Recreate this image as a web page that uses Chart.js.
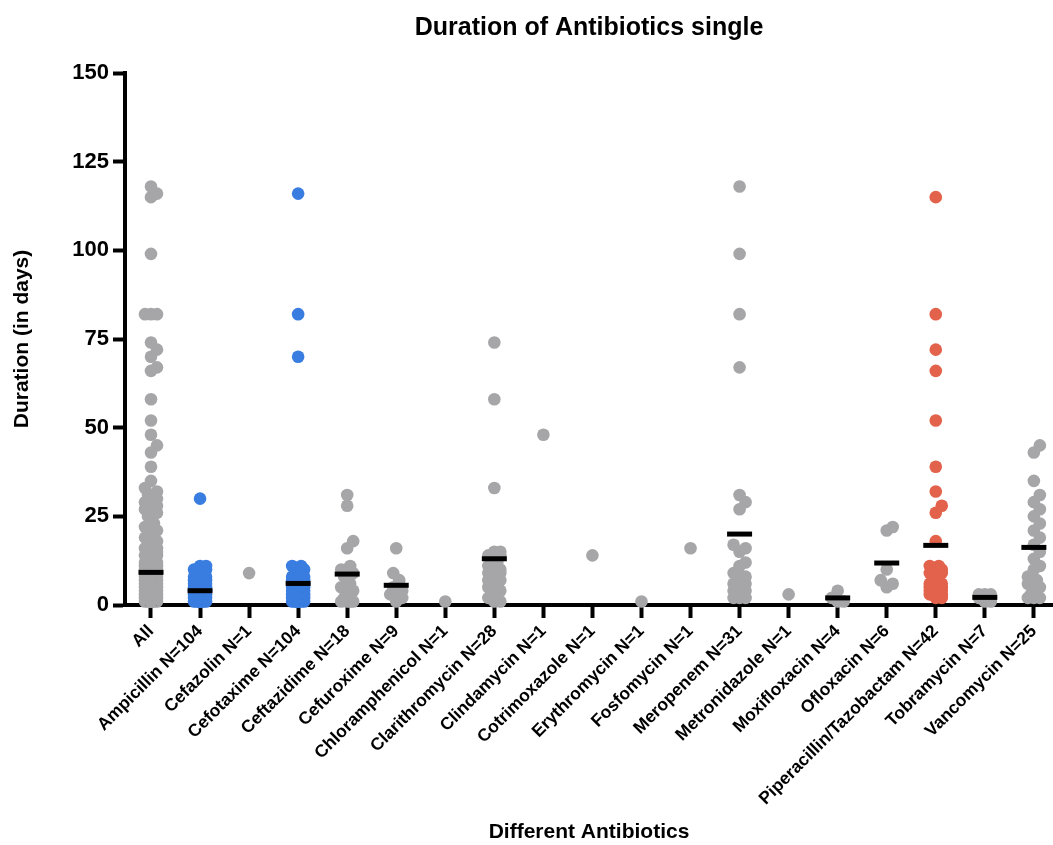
<!DOCTYPE html>
<html>
<head>
<meta charset="utf-8">
<title>Duration of Antibiotics single</title>
<script src="https://cdn.jsdelivr.net/npm/chart.js@4"></script>
<style>
  html, body { margin: 0; padding: 0; background: #fff; }
  #wrap { width: 1053px; height: 845px; }
</style>
</head>
<body>
<div id="wrap"><canvas id="chart"></canvas></div>
<script>
// x axis categories
const categories = ['All', 'Ampicillin N=104', 'Cefazolin N=1', 'Cefotaxime N=104', 'Ceftazidime N=18',
    'Cefuroxime N=9', 'Chloramphenicol N=1', 'Clarithromycin N=28', 'Clindamycin N=1', 'Cotrimoxazole N=1',
    'Erythromycin N=1', 'Fosfomycin N=1', 'Meropenem N=31', 'Metronidazole N=1', 'Moxifloxacin N=4',
    'Ofloxacin N=6', 'Piperacillin/Tazobactam N=42', 'Tobramycin N=7', 'Vancomycin N=25'];

// durations (days), one array per antibiotic
const ampicillin = [
    1,1,1,1,1,1,1,1,1,1,1,1,1,1,1,1,1,1,1,1,
    2,2,2,2,2,2,2,2,2,2,2,2,2,2,2,2,2,2,2,2,
    3,3,3,3,3,3,3,3,3,3,3,3,3,3,3,3,3,3,
    4,4,4,4,4,4,4,4,4,4,4,4,4,
    5,5,5,5,5,5,5,5,5,
    6,6,6,6,6,6,6,
    7,7,7,7,7,
    8,8,8,8,
    9,9,9,
    10,10,11,11,30];
const cefazolin = [9];
const cefotaxime = [
    1,1,1,1,1,1,1,1,1,1,1,1,1,1,1,1,1,1,1,1,1,1,1,1,
    2,2,2,2,2,2,2,2,2,2,2,2,2,2,2,2,2,2,2,
    3,3,3,3,3,3,3,3,3,3,3,3,3,3,3,3,
    4,4,4,4,4,4,4,4,4,4,4,4,
    5,5,5,5,5,5,5,5,5,
    6,6,6,6,6,6,6,
    7,7,7,7,7,
    8,8,8,
    9,9,10,10,11,11,70,82,116];
const ceftazidime = [31, 28, 18, 16, 11, 10, 9, 8, 6, 5, 4, 3, 2, 2, 1, 1, 1, 1];
const cefuroxime = [16, 9, 7, 5, 4, 3, 3, 2, 1];
const chloramphenicol = [1];
const clarithromycin = [74, 58, 33, 15, 15, 14, 14, 13, 12, 12, 11, 10, 10, 9, 9, 8, 7, 7, 6, 5, 5, 4, 4, 3, 3, 2, 1, 1];
const clindamycin = [48];
const cotrimoxazole = [14];
const erythromycin = [1];
const fosfomycin = [16];
const meropenem = [118, 99, 82, 67, 31, 29, 27, 17, 16, 15, 12, 11, 9, 8, 8, 7, 7, 6, 6, 6, 5, 5, 5, 4, 4, 4, 3, 3, 2, 2, 2];
const metronidazole = [3];
const moxifloxacin = [4, 2, 1, 1];
const ofloxacin = [22, 21, 10, 7, 6, 5];
const piperacillinTazobactam = [115, 82, 72, 66, 52, 39, 32, 28, 26, 18,
    11, 11, 10, 10, 9, 9, 7, 7, 7, 6, 6, 6, 6, 5, 5, 5, 5, 5, 4, 4, 4, 4, 4, 4, 3, 3, 3, 3, 3, 3, 2, 2];
const tobramycin = [3, 3, 3, 2, 2, 1, 1];
const vancomycin = [45, 43, 35, 31, 29, 27, 25, 23, 21, 19, 17, 15, 13, 11, 10, 8, 7, 6, 5, 4, 3, 3, 2, 2, 2];

// "All" is every patient pooled together
const all = [].concat(ampicillin, cefazolin, cefotaxime, ceftazidime, cefuroxime, chloramphenicol,
    clarithromycin, clindamycin, cotrimoxazole, erythromycin, fosfomycin, meropenem, metronidazole,
    moxifloxacin, ofloxacin, piperacillinTazobactam, tobramycin, vancomycin);

const series = [all, ampicillin, cefazolin, cefotaxime, ceftazidime, cefuroxime, chloramphenicol,
    clarithromycin, clindamycin, cotrimoxazole, erythromycin, fosfomycin, meropenem, metronidazole,
    moxifloxacin, ofloxacin, piperacillinTazobactam, tobramycin, vancomycin];

// styling
const GRAY = '#a6a6a9', BLUE = '#3a7de0', RED = '#e2624c';
const dotColor = [GRAY, BLUE, GRAY, BLUE, GRAY, GRAY, GRAY, GRAY, GRAY, GRAY,
    GRAY, GRAY, GRAY, GRAY, GRAY, GRAY, RED, GRAY, GRAY];
const FONT = '"Liberation Sans", Arial, Helvetica, sans-serif';
const bold = size => ({ family: FONT, size: size, weight: 'bold' });

// small beeswarm so stacked dots spread sideways a little (in pixels, then to axis units)
const PX_PER_CAT = 49.1, PX_PER_DAY = 3.547;
function swarm(values) {
    const placed = [];
    const offsets = [0, 3, -3, 6, -6];
    return values.slice().sort((a, b) => a - b).map(v => {
        const yp = v * PX_PER_DAY;
        let best = 0, bestD = -1;
        for (const o of offsets) {
            let dmin = Infinity;
            placed.forEach(p => { dmin = Math.min(dmin, Math.hypot(p.dx - o, p.yp - yp)); });
            if (dmin >= 9) { best = o; break; }
            if (dmin > bestD) { bestD = dmin; best = o; }
        }
        placed.push({ dx: best, yp: yp });
        return { dx: best / PX_PER_CAT, v: v };
    });
}

const dotPoints = [];
const meanPoints = [];
series.forEach((vals, i) => {
    swarm(vals).forEach(p => dotPoints.push({ x: i + p.dx, y: p.v, cat: i }));
    if (vals.length > 1) {
        meanPoints.push({ x: i, y: vals.reduce((s, v) => s + v, 0) / vals.length });
    }
});

new Chart(document.getElementById('chart'), {
    type: 'scatter',
    data: {
        datasets: [{
            label: 'Mean',
            data: meanPoints,
            order: 0,
            pointStyle: 'line',
            pointRadius: 12.5,
            pointHoverRadius: 12.5,
            borderColor: '#000',
            borderWidth: 5,
            clip: false
        }, {
            label: 'Duration',
            data: dotPoints,
            order: 1,
            pointRadius: 6.3,
            pointHoverRadius: 6.3,
            borderWidth: 0,
            backgroundColor: ctx => dotColor[ctx.raw ? ctx.raw.cat : 0],
            clip: false
        }]
    },
    options: {
        responsive: true,
        maintainAspectRatio: false,
        animation: false,
        layout: { autoPadding: false, padding: { left: 6, right: 0, top: 0, bottom: 0 } },
        plugins: {
            legend: { display: false },
            tooltip: { enabled: false },
            title: {
                display: true,
                text: 'Duration of Antibiotics single',
                fullSize: false,
                color: '#000',
                font: bold(25),
                padding: { top: 13, bottom: 30 }
            }
        },
        scales: {
            x: {
                type: 'linear',
                min: -0.53,
                max: 18.39,
                z: 1,
                afterBuildTicks: s => { s.ticks = categories.map((c, i) => ({ value: i })); },
                afterFit: s => {
                    s.height = 240;
                    s.paddingLeft = 0;
                    s.paddingRight = 0;
                },
                ticks: {
                    autoSkip: false,
                    minRotation: 45,
                    maxRotation: 45,
                    padding: 3,
                    color: '#000',
                    font: bold(17.5),
                    callback: v => categories[v]
                },
                grid: { drawOnChartArea: false, drawTicks: true, tickLength: 13, tickWidth: 4, tickColor: '#000' },
                border: { display: true, color: '#000', width: 4 },
                title: {
                    display: true,
                    text: 'Different Antibiotics',
                    color: '#000',
                    font: bold(21),
                    padding: { top: 0, bottom: 0 }
                }
            },
            y: {
                min: 0,
                max: 150,
                z: 1,
                afterFit: s => { s.width = 119; },
                ticks: { stepSize: 25, padding: 4, color: '#000', font: bold(22) },
                grid: { drawOnChartArea: false, drawTicks: true, tickLength: 12, tickWidth: 4, tickColor: '#000' },
                border: { display: true, color: '#000', width: 4 },
                title: {
                    display: true,
                    text: 'Duration (in days)',
                    color: '#000',
                    font: bold(21),
                    padding: { top: 4, bottom: 4 }
                }
            }
        }
    }
});
</script>
</body>
</html>
